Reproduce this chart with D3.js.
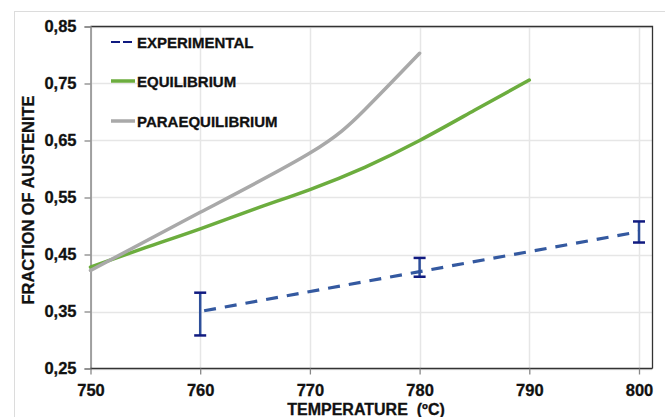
<!DOCTYPE html>
<html>
<head>
<meta charset="utf-8">
<script src="https://cdn.jsdelivr.net/npm/d3@7"></script>
<style>
  body { margin: 0; background: #fff; }
  text { font-family: "Liberation Sans", Arial, sans-serif; font-weight: bold; fill: #111; stroke: #111; stroke-width: 0.3px; }
</style>
</head>
<body>
<svg id="chart" width="665" height="417"></svg>
<script>
// temperatures (ºC)
var temps = [750, 755, 760, 765, 770, 775, 780, 785, 790];

// equilibrium fraction of austenite
var equilibrium = [0.428, 0.462, 0.495, 0.530, 0.564, 0.603, 0.650, 0.703, 0.756];

// paraequilibrium fraction (ends at 780)
var paraTemps = [750, 760, 770, 775, 780];
var paraequilibrium = [0.422, 0.524, 0.628, 0.704, 0.803];

// experimental points with error bars
var expTemps = [760, 780, 800];
var expValues = [0.35, 0.42, 0.49];
var expLow = [0.308, 0.411, 0.471];
var expHigh = [0.383, 0.444, 0.508];

var xTicks = [750, 760, 770, 780, 790, 800];
var yTicks = [0.25, 0.35, 0.45, 0.55, 0.65, 0.75, 0.85];

var legendNames = ["EXPERIMENTAL", "EQUILIBRIUM", "PARAEQUILIBRIUM"];

function drawChart() {
    var svg = d3.select("#chart");

    // outer chart border
    svg.append("rect")
        .attr("x", 14.5).attr("y", 11.5)
        .attr("width", 700).attr("height", 450)
        .attr("fill", "none")
        .attr("stroke", "#dcdcdc")
        .attr("stroke-width", 1);

    var pLeft = 90.5, pRight = 639, pTop = 26.5, pBottom = 368.5, frameRight = 652;

    var x = d3.scaleLinear().domain([750, 800]).range([pLeft, pRight]);
    var y = d3.scaleLinear().domain([0.25, 0.85]).range([pBottom, pTop]);

    // grid lines
    svg.append("g").selectAll("line")
        .data(xTicks)
        .enter()
        .append("line")
        .attr("x1", function(d) { return Math.round(x(d)) + 0.5; })
        .attr("x2", function(d) { return Math.round(x(d)) + 0.5; })
        .attr("y1", pTop).attr("y2", pBottom)
        .attr("stroke", "#e6e6e6")
        .attr("stroke-width", 1.5);

    svg.append("g").selectAll("line")
        .data(yTicks)
        .enter()
        .append("line")
        .attr("x1", pLeft).attr("x2", frameRight)
        .attr("y1", function(d) { return Math.round(y(d)) + 0.5; })
        .attr("y2", function(d) { return Math.round(y(d)) + 0.5; })
        .attr("stroke", "#e6e6e6")
        .attr("stroke-width", 1.5);

    // frame: top and right
    svg.append("path")
        .attr("d", "M" + pLeft + "," + pTop + "H" + (frameRight + 0.5) + "V" + pBottom)
        .attr("fill", "none")
        .attr("stroke", "#333")
        .attr("stroke-width", 1.3);

    // axes
    var yAxis = svg.append("g")
        .attr("transform", "translate(" + pLeft + ",0)")
        .call(d3.axisLeft(y).tickValues(yTicks).tickSize(6).tickPadding(8)
            .tickFormat(function(d) { return d3.format(".2f")(d).replace(".", ","); }));
    yAxis.select(".domain").attr("stroke", "#888").attr("stroke-width", 1.5);
    yAxis.selectAll(".tick line").attr("stroke", "#888").attr("stroke-width", 1.3);
    yAxis.selectAll("text").style("font-size", "16.5px");

    var xAxis = svg.append("g")
        .attr("transform", "translate(0," + pBottom + ")")
        .call(d3.axisBottom(x).tickValues(xTicks).tickSize(6).tickPadding(10)
            .tickFormat(d3.format("d")));
    xAxis.select(".domain").attr("d", "M" + pLeft + ",0H" + (frameRight + 0.5))
        .attr("stroke", "#333").attr("stroke-width", 1.3);
    xAxis.selectAll(".tick line").attr("stroke", "#888").attr("stroke-width", 1.3);
    xAxis.selectAll("text").style("font-size", "16.5px");

    // axis titles
    svg.append("text")
        .attr("x", 366).attr("y", 415)
        .attr("text-anchor", "middle")
        .style("font-size", "16px")
        .style("white-space", "pre")
        .text("TEMPERATURE  (ºC)");

    svg.append("text")
        .attr("transform", "translate(34,200) rotate(-90)")
        .attr("text-anchor", "middle")
        .style("font-size", "16.4px")
        .text("FRACTION OF AUSTENITE");

    // curves
    var eqLine = d3.line()
        .x(function(d, i) { return x(temps[i]); })
        .y(function(d) { return y(d); })
        .curve(d3.curveNatural);

    svg.append("path")
        .datum(equilibrium)
        .attr("d", eqLine)
        .attr("fill", "none")
        .attr("stroke", "#6cad3e")
        .attr("stroke-width", 3.5)
        .attr("stroke-linecap", "round");

    var paraLine = d3.line()
        .x(function(d, i) { return x(paraTemps[i]); })
        .y(function(d) { return y(d); })
        .curve(d3.curveNatural);

    svg.append("path")
        .datum(paraequilibrium)
        .attr("d", paraLine)
        .attr("fill", "none")
        .attr("stroke", "#a9a9a9")
        .attr("stroke-width", 3.5)
        .attr("stroke-linecap", "round");

    // experimental dashed line
    var expLine = d3.line()
        .x(function(d, i) { return x(expTemps[i]); })
        .y(function(d) { return y(d); });

    svg.append("path")
        .datum(expValues)
        .attr("d", expLine)
        .attr("fill", "none")
        .attr("stroke", "#3459a0")
        .attr("stroke-width", 3.2)
        .attr("stroke-dasharray", "12,9")
        .attr("stroke-dashoffset", -4);

    // error bars
    var err = svg.append("g");
    expTemps.forEach(function(t, i) {
        var cx = x(t);
        err.append("line")
            .attr("x1", cx).attr("x2", cx)
            .attr("y1", y(expLow[i])).attr("y2", y(expHigh[i]))
            .attr("stroke", "#2e4f9a").attr("stroke-width", 2.5);
        [expLow[i], expHigh[i]].forEach(function(v) {
            err.append("line")
                .attr("x1", cx - 6).attr("x2", cx + 6)
                .attr("y1", y(v)).attr("y2", y(v))
                .attr("stroke", "#101a80").attr("stroke-width", 2.5);
        });
    });

    // legend
    var legendY = [42, 81, 121];
    var legend = svg.append("g");
    legendNames.forEach(function(name, i) {
        if (i == 0) {
            legend.append("line")
                .attr("x1", 111).attr("x2", 135)
                .attr("y1", legendY[i]).attr("y2", legendY[i])
                .attr("stroke", "#101a80").attr("stroke-width", 2.2)
                .attr("stroke-dasharray", "9,3");
        } else {
            legend.append("line")
                .attr("x1", 111).attr("x2", 135)
                .attr("y1", legendY[i]).attr("y2", legendY[i])
                .attr("stroke", i == 1 ? "#6cad3e" : "#a9a9a9")
                .attr("stroke-width", 3.5);
        }
        legend.append("text")
            .attr("x", 137).attr("y", legendY[i] + 5.5)
            .style("font-size", "15px")
            .text(name);
    });
}

drawChart();
</script>
</body>
</html>
